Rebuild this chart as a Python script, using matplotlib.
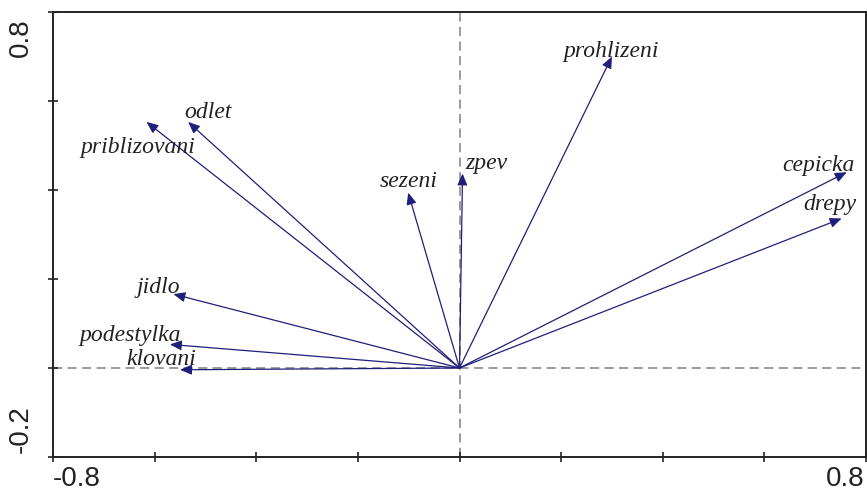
import matplotlib
matplotlib.use("Agg")
import matplotlib.pyplot as plt
from matplotlib.patches import ArrowStyle

# Variable loadings (axis 1, axis 2)
variables = ["prohlizeni", "cepicka", "drepy", "zpev", "sezeni",
             "odlet", "priblizovani", "jidlo", "podestylka", "klovani"]
axis1 = [0.300, 0.762, 0.752, 0.006, -0.101, -0.534, -0.616, -0.563, -0.570, -0.550]
axis2 = [0.700, 0.440, 0.336, 0.437, 0.394, 0.553, 0.553, 0.166, 0.053, -0.004]

# Label offsets from each arrow tip (pixels, x right / y up)
label_offsets = {
    "prohlizeni": (-1, 5), "cepicka": (-28, 7), "drepy": (-12, 14),
    "zpev": (24, 10), "sezeni": (1, 11), "odlet": (20, 9),
    "priblizovani": (-9, -26), "jidlo": (-15, 7), "podestylka": (-40, 9),
    "klovani": (-19, 10),
}

arrow_color = "#1f1f7a"

fig = plt.figure(figsize=(8.67, 4.93), dpi=100)
ax = fig.add_axes([53 / 867, 36 / 493, 813 / 867, 445 / 493])
ax.set_xlim(-0.8, 0.8)
ax.set_ylim(-0.2, 0.8)

ax.axhline(0, color="#808080", lw=1.1, dashes=(6, 3.5), zorder=1)
ax.axvline(0, color="#808080", lw=1.1, dashes=(6, 3.5), zorder=1)

style = ArrowStyle("-|>", head_length=0.7, head_width=0.3)
for name, x, y in zip(variables, axis1, axis2):
    ax.annotate("", xy=(x, y), xytext=(0, 0),
                arrowprops=dict(arrowstyle=style, color=arrow_color, lw=0.9,
                                shrinkA=0, shrinkB=0, mutation_scale=10),
                zorder=3)
    dx, dy = label_offsets[name]
    ax.annotate(name, xy=(x, y), xytext=(dx, dy), textcoords="offset pixels",
                ha="center", va="center", fontsize=17, style="italic",
                family="Liberation Serif", color="#222222", zorder=4)

# Ticks every 0.2, labelled only at the ends
ax.set_xticks([-0.8, -0.6, -0.4, -0.2, 0.0, 0.2, 0.4, 0.6, 0.8])
ax.set_yticks([-0.2, 0.0, 0.2, 0.4, 0.6, 0.8])
ax.set_xticklabels([])
ax.set_yticklabels([])
ax.tick_params(direction="inout", length=7, width=1.2, color="#222222")

for s in ax.spines.values():
    s.set_linewidth(1.4)
    s.set_color("#222222")

tick_font = dict(family="Liberation Sans", fontsize=20, color="#222222")
ax.text(0.0, -0.02, "-0.8", transform=ax.transAxes, ha="left", va="top", **tick_font)
ax.text(0.998, -0.02, "0.8", transform=ax.transAxes, ha="right", va="top", **tick_font)
ax.text(-0.024, 0.985, "0.8", transform=ax.transAxes, ha="right", va="top",
        rotation=90, **tick_font)
ax.text(-0.024, 0.01, "-0.2", transform=ax.transAxes, ha="right", va="bottom",
        rotation=90, **tick_font)

fig.savefig("out.png", dpi=100)
